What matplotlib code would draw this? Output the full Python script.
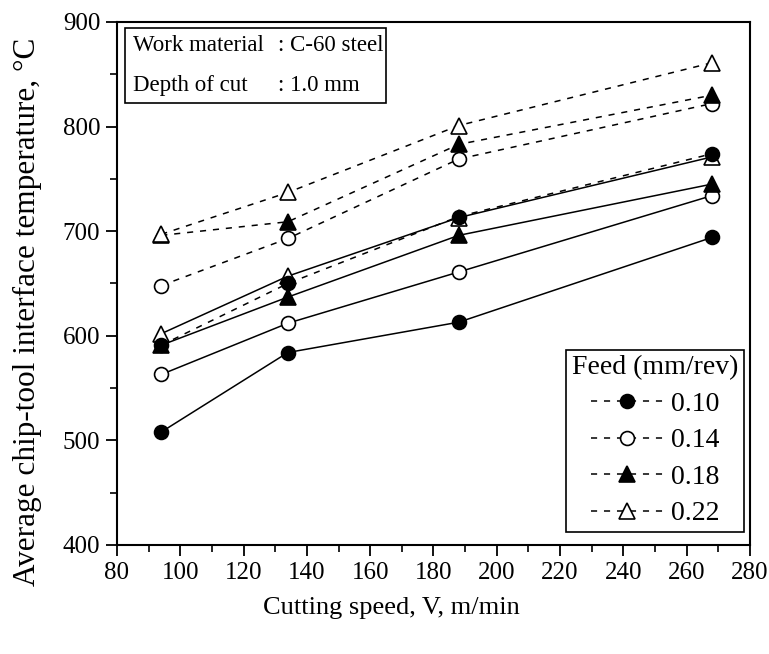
import numpy as np
import matplotlib.pyplot as plt
from matplotlib.patches import Rectangle

plt.rcParams['font.family'] = ['Liberation Serif', 'DejaVu Serif']

# cutting speeds, m/min
speed = [94, 134, 188, 268]
feeds = ["0.10", "0.14", "0.18", "0.22"]

# chip-tool interface temperature, deg C  (solid lines)
temp_solid_010 = [508, 584, 613, 694]
temp_solid_014 = [563, 612, 661, 734]
temp_solid_018 = [591, 637, 696, 745]
temp_solid_022 = [602, 657, 713, 771]

# chip-tool interface temperature, deg C  (dashed lines)
temp_dash_010 = [591, 650, 714, 774]
temp_dash_014 = [648, 693, 769, 822]
temp_dash_018 = [696, 709, 783, 830]
temp_dash_022 = [697, 737, 801, 861]

solid = [temp_solid_010, temp_solid_014, temp_solid_018, temp_solid_022]
dashed = [temp_dash_010, temp_dash_014, temp_dash_018, temp_dash_022]

markers = ['o', 'o', '^', '^']
faces = ['black', 'white', 'black', 'white']
sizes = [10, 10, 11, 11]

fig = plt.figure(figsize=(7.69, 6.54), dpi=100)
ax = fig.add_axes([0.1521, 0.1667, 0.8231, 0.7997])

for vals, m, fc, ms in zip(solid, markers, faces, sizes):
    ax.plot(speed, vals, '-', color='black', lw=1.1, marker=m, ms=ms,
            mfc=fc, mec='black', mew=1.2)

for vals, m, fc, ms, lab in zip(dashed, markers, faces, sizes, feeds):
    ax.plot(speed, vals, color='black', lw=1.1, ls=(0, (4, 4.5)), marker=m,
            ms=ms, mfc=fc, mec='black', mew=1.2, label=lab)

ax.set_xlim(80, 280)
ax.set_ylim(400, 900)
ax.set_xticks(np.arange(80, 281, 20))
ax.set_xticks(np.arange(80, 281, 10), minor=True)
ax.set_yticks(np.arange(400, 901, 100))
ax.set_yticks(np.arange(400, 901, 50), minor=True)
ax.tick_params(which='both', direction='out', top=False, right=False)
ax.tick_params(which='major', length=8, width=1.3, labelsize=18, pad=4)
ax.tick_params(which='minor', length=5, width=1.2)
for sp in ax.spines.values():
    sp.set_linewidth(1.5)

ax.set_xlabel("Cutting speed, V, m/min", fontsize=19)
ax.set_ylabel("Average chip-tool interface temperature, °C", fontsize=22.5)
ax.xaxis.set_label_coords(0.433, -0.10)
ax.yaxis.set_label_coords(-0.118, 0.445)

# work material / depth of cut box
ax.add_patch(Rectangle((0.013, 0.845), 0.412, 0.144, transform=ax.transAxes,
                       fill=False, edgecolor='black', lw=1.2))
ax.text(0.025, 0.955, "Work material", transform=ax.transAxes,
        fontsize=16.5, va='center', ha='left')
ax.text(0.025, 0.878, "Depth of cut", transform=ax.transAxes,
        fontsize=16.5, va='center', ha='left')
ax.text(0.254, 0.955, ": C-60 steel", transform=ax.transAxes,
        fontsize=16.5, va='center', ha='left')
ax.text(0.254, 0.878, ": 1.0 mm", transform=ax.transAxes,
        fontsize=16.5, va='center', ha='left')

leg = ax.legend(title="Feed (mm/rev)", loc='lower right',
                bbox_to_anchor=(0.9905, 0.025), borderaxespad=0,
                frameon=True, fancybox=False, edgecolor='black',
                framealpha=1, fontsize=20, title_fontsize=20,
                handlelength=2.6, handletextpad=0.3, labelspacing=0.4,
                borderpad=0.2)
leg.get_frame().set_linewidth(1.2)

fig.savefig("out.png", dpi=100)
